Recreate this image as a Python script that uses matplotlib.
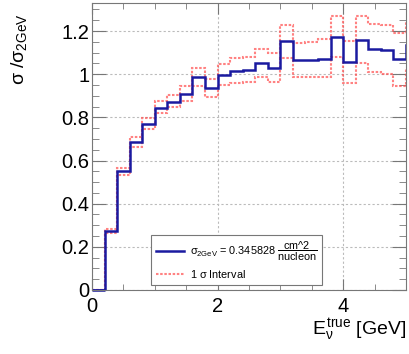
import numpy as np
import matplotlib.pyplot as plt
from matplotlib.ticker import MultipleLocator, FuncFormatter

plt.rcParams['font.family'] = ['Liberation Sans', 'DejaVu Sans']
plt.rcParams['mathtext.fontset'] = 'custom'
plt.rcParams['mathtext.rm'] = 'Liberation Sans'
plt.rcParams['mathtext.it'] = 'Liberation Sans'
plt.rcParams['mathtext.sf'] = 'Liberation Sans'

# bin edges (GeV), last bin sits past the axis edge
edges = np.round(np.arange(0, 5.21, 0.2), 2)
ratio = [0, 0.273, 0.551, 0.688, 0.769, 0.845, 0.869, 0.908, 0.986, 0.937,
         0.997, 1.015, 1.020, 1.054, 1.029, 1.152, 1.065, 1.068, 1.072, 1.172,
         1.055, 1.157, 1.118, 1.114, 1.071, 1.134]
upper = [0, 0.283, 0.566, 0.711, 0.798, 0.877, 0.902, 0.946, 1.029, 0.980,
         1.049, 1.074, 1.080, 1.118, 1.098, 1.229, 1.145, 1.149, 1.162, 1.268,
         1.152, 1.268, 1.232, 1.229, 1.192, 1.240]
lower = [0, 0.265, 0.535, 0.665, 0.745, 0.818, 0.846, 0.874, 0.946, 0.894,
         0.948, 0.960, 0.965, 0.989, 0.963, 1.075, 0.985, 0.985, 0.985, 1.082,
         0.958, 1.054, 1.012, 1.000, 0.946, 1.030]

fig = plt.figure(figsize=(4.10, 3.54), dpi=100)
ax = fig.add_axes([0.2244, 0.1808, 0.7656, 0.8107])

red = '#ff4d4d'
band_hi = ax.stairs(upper, edges, baseline=None, color=red, lw=1.5, ls=(0, (1.2, 0.8)), alpha=0.7)
ax.stairs(lower, edges, baseline=None, color=red, lw=1.5, ls=(0, (1.2, 0.8)), alpha=0.7)
central = ax.stairs(ratio, edges, baseline=None, color='#1a1aa0', lw=1.8)
# first (empty) bin sits on the axis line
ax.stairs(ratio[:1], edges[:2], baseline=None, color='#1a1aa0', lw=1.8, clip_on=False)

ax.set_xlim(0, 5)
ax.set_ylim(0, 1.33)

ax.xaxis.set_major_locator(MultipleLocator(2))
ax.xaxis.set_minor_locator(MultipleLocator(0.5))
ax.yaxis.set_major_locator(MultipleLocator(0.2))
ax.yaxis.set_minor_locator(MultipleLocator(0.05))
fmt = FuncFormatter(lambda v, p: '%g' % round(v, 2))
ax.xaxis.set_major_formatter(fmt)
ax.yaxis.set_major_formatter(fmt)

ax.tick_params(which='both', direction='in', top=True, right=True, colors='#777777',
               labelcolor='black', labelsize=14.5)
ax.tick_params(axis='y', which='major', length=10, pad=2)
ax.tick_params(axis='y', which='minor', length=5)
ax.tick_params(axis='x', which='major', length=8, pad=5)
ax.tick_params(axis='x', which='minor', length=4)
for s in ax.spines.values():
    s.set_color('#777777')

ax.grid(True, which='major', color='#bbbbbb', ls=(0, (2, 2)), lw=0.8)
ax.set_axisbelow(True)

ax.set_ylabel(r'$\sigma$ /$\sigma_{2GeV}$', fontsize=14, ha='right')
ax.yaxis.set_label_coords(-0.20, 0.965)
ax.set_xlabel(r'$E_{\nu}^{true}$ [GeV]', fontsize=14, ha='right', va='center')
ax.xaxis.set_label_coords(1.0, -0.14)

leg = ax.legend(handles=[central, band_hi],
                labels=[r'$\sigma_{2GeV}$ = 0.345828 $\dfrac{\text{cm^2}}{\text{nucleon}}$',
                        r'1 $\sigma$ Interval'],
                loc='lower left', bbox_to_anchor=(0.17, 0.0), fontsize=7.8,
                fancybox=False, edgecolor='#777777', framealpha=1,
                handlelength=2.6, handletextpad=0.55, borderpad=0.45, labelspacing=0.45)
leg.get_frame().set_linewidth(0.8)

fig.savefig('out.png', dpi=100)
